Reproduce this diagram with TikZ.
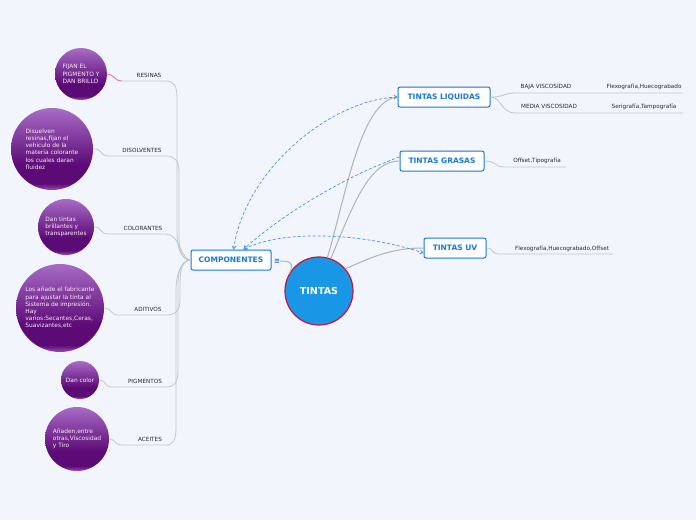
\documentclass[tikz,border=0pt]{standalone}
\usepackage{fontspec}
\setmainfont{DejaVu Sans}
\usetikzlibrary{arrows.meta}
\definecolor{bg}{RGB}{243,245,253}
\definecolor{boxblue}{RGB}{26,120,214}
\definecolor{tintfill}{RGB}{26,150,230}
\definecolor{tintdraw}{RGB}{196,22,60}
\definecolor{linegray}{RGB}{196,198,206}
\definecolor{darkgray}{RGB}{178,178,182}
\definecolor{dashblue}{RGB}{70,145,232}
\definecolor{labtext}{RGB}{40,40,48}
\definecolor{bubtop}{RGB}{168,108,198}
\definecolor{bubdark}{RGB}{92,10,118}
\definecolor{bubrim}{RGB}{150,80,182}
\definecolor{pinkline}{RGB}{226,110,160}
\pgfdeclareverticalshading{bubshade}{100bp}{color(0bp)=(bubrim); color(25bp)=(bubrim); color(29bp)=(bubdark); color(40bp)=(bubdark); color(75bp)=(bubtop); color(100bp)=(bubtop)}
\tikzset{
  topic/.style={draw=boxblue, line width=1pt, fill=white, rounded corners=2pt,
    font=\fontsize{7.5}{8}\selectfont\bfseries, text=boxblue, minimum height=20pt, inner sep=0pt},
  bubble/.style={circle, shading=bubshade, text=white!92!purple, inner sep=0pt,
    font=\fontsize{5.9}{7.2}\selectfont, align=left},
  lab/.style={font=\fontsize{5.7}{6}\selectfont, text=labtext, inner sep=0pt},
  branch/.style={draw=linegray, line width=0.8pt},
  trunk/.style={draw=darkgray, line width=1pt},
  dashc/.style={draw=dashblue, line width=0.7pt, dash pattern=on 3pt off 2pt},
  tip/.style={-{Straight Barb[length=3pt,width=4pt]}},
  tips/.style={{Straight Barb[length=3pt,width=4pt]}-{Straight Barb[length=3pt,width=4pt]}}
}
\begin{document}
\begin{tikzpicture}[x=1pt,y=-1pt]
\fill[bg] (0,0) rectangle (696,520);
\useasboundingbox (0,0) rectangle (696,520);

% central
\node[circle, fill=tintfill, draw=tintdraw, line width=1.2pt, minimum size=68pt, inner sep=0pt,
  text=white, font=\fontsize{9.6}{10}\selectfont\bfseries] (tintas) at (319,291) {TINTAS};

\node[topic, minimum width=80pt] (comp) at (231,260) {COMPONENTES};
\node[text=boxblue, font=\fontsize{7}{7}\selectfont\bfseries, inner sep=0pt] (menu) at (277,261) {≡};
\node[topic, minimum width=92pt] (liq) at (444,97) {TINTAS LIQUIDAS};
\node[topic, minimum width=84pt] (gras) at (442,161) {TINTAS GRASAS};
\node[topic, minimum width=62pt] (uv) at (455,248) {TINTAS UV};

% trunk connectors
\draw[trunk] (menu.east) .. controls (290,261) and (295,263) .. (tintas.150);
\draw[trunk] (tintas.76) .. controls (345,200) and (360,100) .. (liq.west);
\draw[trunk] (tintas.70) .. controls (355,200) and (370,161) .. (gras.west);
\draw[trunk] (tintas.40) .. controls (370,258) and (390,248) .. (uv.west);

% right children
\coordinate (b1) at (516,93);
\coordinate (b2) at (516,113);
\coordinate (g1) at (505,167);
\coordinate (u1) at (500,254);
\draw[branch] (liq.east) .. controls (505,97) and (503,93) .. (b1) -- (683,93);
\draw[branch] (liq.east) .. controls (502,97) and (500,113) .. (b2) -- (683,113);
\draw[branch] (gras.east) .. controls (497,161) and (494,167) .. (g1) -- (566,167);
\draw[branch] (uv.east) .. controls (494,248) and (490,254) .. (u1) -- (613,254);
\node[lab] (l1) at (546,87) {BAJA VISCOSIDAD};
\node[lab] (l2) at (549,106.5) {MEDIA VISCOSIDAD};
\node[lab] (l3) at (644,87) {Flexografía,Huecograbado};
\node[lab] (l4) at (644,106.5) {Serigrafía,Tampografía};
\node[lab] (l5) at (537,161) {Offset,Tipografía};
\node[lab] (l6) at (562,249) {Flexografía,Huecograbado,Offset};

% left labels
\node[lab] (resinas) at (149,75) {RESINAS};
\node[lab] (disol) at (142,150) {DISOLVENTES};
\node[lab] (color) at (143,228) {COLORANTES};
\node[lab] (aditi) at (148,309) {ADITIVOS};
\node[lab] (pigm) at (145,381) {PIGMENTOS};
\node[lab] (aceit) at (150,439) {ACEITES};

% bubbles
\node[bubble, minimum size=52pt] (b-res) at (81,74) {FIJAN EL\\PIGMENTO Y\\DAN BRILLO};
\node[bubble, minimum size=82pt] (b-dis) at (52,149) {Disuelven\\resinas,fijan el\\vehiculo de la\\materia colorante\\los cuales daran\\fluidez};
\node[bubble, minimum size=56pt] (b-col) at (66,227) {Dan tintas\\brillantes y\\transparentes};
\node[bubble, minimum size=88pt] (b-adi) at (60,308) {Los añade el fabricante\\para ajustar la tinta al\\Sistema de impresión.\\Hay\\varios:Secantes,Ceras,\\Suavizantes,etc};
\node[bubble, minimum size=38pt] (b-pig) at (80,380) {Dan color};
\node[bubble, minimum size=64pt] (b-ace) at (77,439) {Añaden,entre\\otras,Viscosidad\\y Tiro};

% left connectors from COMPONENTES
\coordinate (r1) at (122,81);
\coordinate (d1) at (108,156);
\coordinate (c1) at (108,234);
\coordinate (a1) at (118,315);
\coordinate (p1) at (112,387);
\coordinate (e1) at (122,445);
\draw[branch] (comp.west) .. controls (182,260) and (177,250) .. (177,232) -- (177,98) .. controls (177,86) and (174,81) .. (166,81) -- (r1);
\draw[branch] (comp.west) .. controls (183,260) and (179,252) .. (179,238) -- (179,172) .. controls (179,161) and (175,156) .. (166,156) -- (d1);
\draw[branch] (comp.west) .. controls (181,260) and (180,234) .. (166,234) -- (c1);
\draw[branch] (comp.west) .. controls (182,260) and (180,270) .. (180,285) -- (180,300) .. controls (180,310) and (176,315) .. (166,315) -- (a1);
\draw[branch] (comp.west) .. controls (183,260) and (178,268) .. (178,285) -- (178,370) .. controls (178,382) and (175,387) .. (166,387) -- (p1);
\draw[branch] (comp.west) .. controls (184,260) and (176,270) .. (176,290) -- (176,428) .. controls (176,440) and (173,445) .. (166,445) -- (e1);

% bubble links
\draw[draw=pinkline, line width=0.8pt] (b-res.east) .. controls (114,74) and (114,81) .. (r1);
\draw[branch] (b-dis.east) .. controls (102,148) and (100,156) .. (d1);
\draw[branch] (b-col.east) .. controls (102,227) and (100,234) .. (c1);
\draw[branch] (b-adi.east) .. controls (112,308) and (110,315) .. (a1);
\draw[branch] (b-pig.east) .. controls (106,380) and (104,387) .. (p1);
\draw[branch] (b-ace.east) .. controls (116,439) and (114,445) .. (e1);

% dashed relations
\draw[dashc, tips] ([xshift=43pt]comp.north west) .. controls (245,170) and (330,100) .. (liq.west);
\draw[dashc, tip] ([yshift=4pt]gras.west) .. controls (340,178) and (275,220) .. ([xshift=53pt]comp.north west);
\draw[dashc, tips] ([xshift=53pt]comp.north west) .. controls (280,230) and (360,232) .. ([yshift=-5pt]uv.west);
\end{tikzpicture}
\end{document}
